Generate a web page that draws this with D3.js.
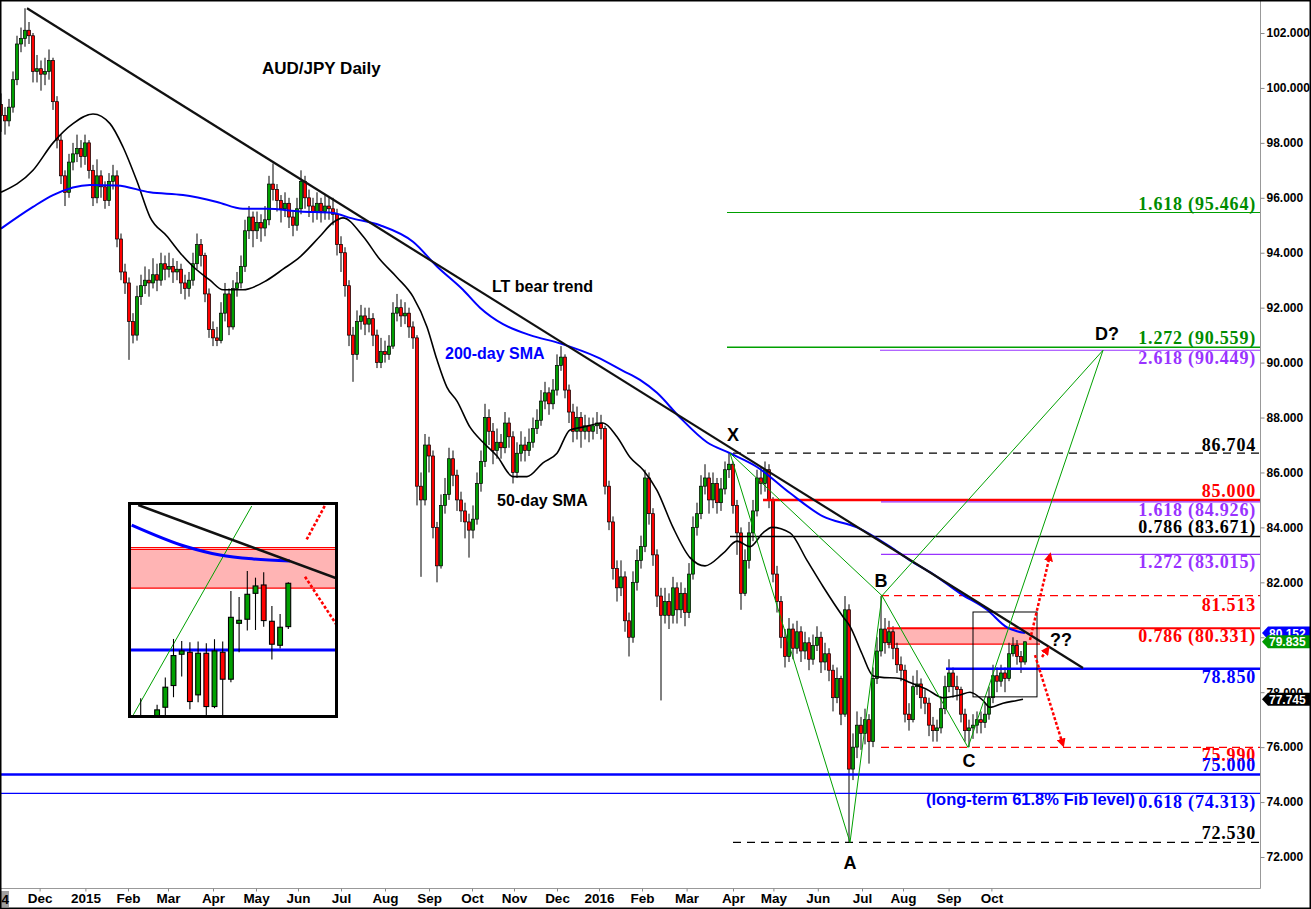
<!DOCTYPE html>
<html><head><meta charset="utf-8">
<script src="https://cdn.jsdelivr.net/npm/d3@7"></script>
<style>
html,body{margin:0;padding:0;background:#fff;}
svg{display:block;}
</style></head><body>
<svg id="c" width="1311" height="909"></svg>
<script>
// ---------------- DATA ----------------
// candles: one candle per two trading days, Nov 2014 .. late Oct 2016
const firstOpen = 99.4;
const closes = [99.0,98.8,99.3,100.3,101.6,101.8,102.1,101.9,100.6,100.7,
100.5,100.6,101.0,99.5,98.1,96.8,96.2,97.3,97.6,97.8,
97.5,98.0,97.0,96.0,96.8,96.4,95.9,96.6,96.8,94.5,
93.3,92.9,91.5,91.0,92.4,92.8,93.0,92.9,93.2,93.0,
93.6,93.4,93.5,93.3,93.4,92.9,92.7,93.0,93.6,94.3,
93.9,92.5,91.2,90.9,90.8,91.8,92.5,91.3,92.7,92.9,
93.5,94.8,95.3,94.8,95.1,94.9,95.2,96.5,96.3,95.9,
95.6,95.8,95.3,95.0,95.6,96.6,96.0,95.7,95.5,95.8,
95.5,95.7,95.6,95.4,94.3,94.0,92.8,91.0,90.3,91.5,
91.7,91.4,91.6,91.0,90.0,90.4,90.3,90.6,91.8,92.0,
91.7,91.8,91.3,90.9,85.5,85.0,87.0,86.6,84.0,82.6,
84.8,85.2,86.5,85.9,85.0,84.6,84.2,83.9,84.3,85.6,
86.4,88.0,87.5,86.8,87.1,86.9,87.8,87.3,86.0,86.7,
87.0,86.8,87.1,87.6,87.9,88.6,88.9,88.5,89.0,89.9,
90.2,89.0,88.2,87.5,88.0,87.5,87.7,87.5,87.7,87.8,
87.6,85.5,84.2,82.5,81.8,82.2,80.6,80.0,82.0,82.8,
83.3,85.8,84.5,83.0,81.5,80.8,81.3,80.8,81.8,81.0,
81.6,80.9,82.3,84.0,84.5,85.5,85.8,85.0,85.6,84.9,
85.4,86.1,86.3,84.8,83.8,81.6,82.8,83.8,84.6,85.8,
85.6,86.1,85.0,82.3,81.3,80.0,79.3,80.3,79.6,80.2,
79.5,79.8,79.2,79.7,80.0,79.1,79.4,78.8,77.8,78.5,
77.2,81.0,75.2,76.0,76.8,76.5,77.0,76.2,78.5,79.5,
80.3,79.8,80.2,79.6,79.0,78.8,77.2,77.0,78.2,78.3,
77.8,77.6,76.8,76.6,76.7,77.4,78.2,78.7,78.2,78.1,
77.2,76.6,76.7,76.8,77.0,76.9,77.2,77.8,78.6,78.4,
78.7,78.5,79.4,79.7,79.3,79.1,79.835];
const highs = [99.8,99.3,99.6,100.6,101.9,102.2,102.9,102.4,102.0,101.2,
101.0,101.1,101.4,101.1,99.7,98.3,97.0,97.6,98.0,98.3,
98.1,98.3,98.1,97.2,97.4,97.0,96.6,96.9,97.2,97.0,
94.7,93.6,93.1,91.8,92.8,93.2,93.5,93.4,93.8,93.6,
94.0,93.9,94.0,93.8,93.7,93.6,93.2,93.3,94.0,94.7,
94.5,94.0,92.7,91.5,91.3,92.2,92.9,92.7,93.0,93.3,
93.9,95.2,95.7,95.5,95.5,95.4,95.7,96.8,97.25,96.5,
96.1,96.2,96.0,95.5,96.0,97.0,96.8,96.3,96.0,96.2,
96.0,96.1,96.0,96.0,95.6,94.6,94.2,93.0,91.3,91.9,
92.1,92.0,92.0,91.8,91.2,90.9,90.8,91.0,92.2,92.5,
92.3,92.2,92.0,91.5,91.0,86.0,87.4,87.3,86.8,84.2,
85.2,85.8,86.9,86.8,86.1,85.3,84.9,84.5,84.8,86.0,
86.8,88.5,88.3,87.8,87.6,87.4,88.2,88.0,87.5,87.1,
87.5,87.3,87.6,88.0,88.3,89.0,89.3,89.1,89.4,90.3,
90.6,90.3,89.2,88.5,88.4,88.2,88.1,88.0,88.0,88.2,
88.1,87.7,85.7,84.4,82.8,82.8,82.4,80.9,82.4,83.2,
83.7,86.1,86.0,84.7,83.2,81.8,81.8,81.6,82.2,82.0,
82.0,81.8,82.7,84.4,84.9,85.9,86.3,86.0,86.0,85.8,
85.8,86.4,86.7,86.4,85.0,84.0,83.2,84.2,85.0,86.1,
86.2,86.4,86.3,85.1,82.6,81.5,80.3,80.7,80.5,80.6,
80.4,80.2,80.0,80.1,80.4,80.2,79.8,79.6,79.0,78.9,
78.6,81.5,81.2,76.5,77.3,77.1,77.4,77.2,78.9,80.0,
81.5,80.7,80.6,80.4,79.8,79.3,79.0,77.6,78.6,78.8,
78.5,78.1,77.8,77.1,77.0,77.8,78.6,79.2,78.9,78.6,
78.2,77.4,77.0,77.2,77.3,77.3,77.6,78.2,79.0,78.9,
79.0,78.9,79.8,80.0,79.9,79.5,79.85];
const lows = [98.4,98.3,98.6,99.1,100.1,101.3,101.5,101.6,100.2,100.2,
99.9,100.1,100.3,99.2,97.8,96.5,95.7,96.0,97.0,97.3,
97.1,97.2,96.7,95.7,95.8,96.0,95.6,95.7,96.3,94.2,
93.0,92.5,90.1,90.7,90.8,92.1,92.5,92.4,92.7,92.6,
92.8,93.0,93.1,92.9,93.0,92.5,92.3,92.4,92.8,93.4,
93.5,92.2,90.9,90.6,90.6,90.7,91.5,91.0,91.2,92.4,
92.7,93.3,94.5,94.2,94.5,94.4,94.6,95.0,95.9,95.5,
95.1,95.3,94.9,94.6,94.8,95.4,95.6,95.3,95.1,95.2,
95.1,95.2,95.2,95.0,93.9,93.3,92.4,90.6,89.3,90.1,
91.2,91.0,91.1,90.6,89.8,89.8,90.0,90.1,90.5,91.5,
91.3,91.4,90.9,90.5,84.8,82.2,84.8,86.0,83.6,82.0,
82.5,84.5,85.0,85.5,84.6,84.2,83.6,82.9,83.6,84.1,
85.3,86.2,87.0,86.3,86.5,86.5,86.7,86.9,85.6,85.8,
86.4,86.4,86.6,86.9,87.4,87.7,88.3,88.1,88.3,88.8,
89.7,88.7,87.8,87.1,87.2,86.9,87.2,87.1,87.2,87.4,
87.2,85.2,83.9,82.1,81.3,81.5,80.2,79.3,79.8,81.7,
82.5,83.1,84.1,82.6,81.1,77.7,80.5,80.3,80.5,80.5,
80.7,80.4,80.7,82.1,83.7,84.3,85.2,84.5,84.7,84.5,
84.6,85.2,85.8,84.5,83.0,81.0,81.5,82.5,83.5,84.4,
85.2,85.3,84.7,82.0,80.9,79.6,78.9,79.1,79.2,79.4,
79.1,79.2,78.8,79.0,79.5,78.7,78.8,78.4,77.3,77.6,
76.8,77.1,72.53,74.8,75.6,75.9,76.1,75.4,76.0,78.3,
79.3,79.4,79.6,79.2,78.7,78.4,76.9,76.6,76.9,77.9,
77.4,77.2,76.4,76.2,76.2,76.5,77.2,78.0,77.8,77.7,
76.9,76.2,76.0,76.3,76.5,76.5,76.7,77.0,77.6,78.0,
78.2,78.0,78.4,79.3,79.0,78.7,79.0];

// moving averages, [candle index, value]
const sma200 = [[0,94.88],[8,95.67],[13,96.1],[22.25,96.47],[29,96.45],[37.25,96.2],[45.5,96.1],[54,95.85],[60.5,95.6],[66.5,95.6],[74.75,95.5],[83,95.45],[87.25,95.27],[94.75,95.0],[103,94.4],[109,93.5],[115.5,92.65],[119.75,92.0],[125.5,91.4],[132.25,91.0],[139.75,90.7],[149,90.2],[155.5,89.7],[159.75,89.37],[164,88.9],[169.75,88.0],[176.5,87.1],[182.25,86.7],[189,86.2],[197.25,85.25],[205.5,84.4],[214,84.0],[222.25,83.3],[227.25,82.8],[233,82.3],[239.75,81.6],[246.5,81.0],[251.5,80.36],[254,80.22],[256,80.152]];
const sma50 = [[0,96.2],[8,97.0],[13,98.0],[18,98.7],[23,99.05],[27.25,98.7],[30.5,97.85],[34,96.6],[37.25,95.3],[41.5,94.6],[44.75,94.0],[48,93.5],[52.25,93.0],[55.5,92.65],[60.5,92.65],[66.5,93.0],[70.5,93.4],[74.75,93.85],[79.75,94.6],[83,95.1],[85.5,95.27],[90.5,94.6],[94.75,93.75],[99,93.1],[103,92.4],[106.5,91.3],[109,90.1],[111.5,89.1],[114,88.6],[117.25,87.65],[120.5,87.1],[124,86.6],[128,85.85],[131.5,85.85],[135.5,86.35],[139,86.7],[142.25,87.55],[145.5,87.65],[150.5,87.8],[154,87.3],[157.25,86.55],[160.5,86.1],[164,85.35],[168,84.0],[172.25,82.9],[176,82.6],[180.5,83.05],[184,83.5],[187.25,83.3],[190.5,83.8],[192.75,84.0],[197.25,83.8],[201.5,82.8],[205.5,81.85],[210.5,80.75],[212.25,80.4],[215.25,79.4],[218,78.6],[219.75,78.55],[224.75,78.5],[227.25,78.35],[231.5,78.1],[235.5,77.8],[239.75,77.9],[242.25,78.0],[245.5,77.7],[247.25,77.45],[250.5,77.6],[254,77.7],[255.5,77.745]];

// axes
const monthLabels = ["Dec","2015","Feb","Mar","Apr","May","Jun","Jul","Aug","Sep","Oct","Nov","Dec","2016","Feb","Mar","Apr","May","Jun","Jul","Aug","Sep","Oct"];
const monthIdx = [9.65,21.1,31.75,41.75,53,63.75,74.25,85,96,107,117.75,128.25,139,149.5,160.25,171.4,183,193.1,204.2,215.25,225.5,236.9,247.6];
const yTicks = [72,74,76,78,80,82,84,86,88,90,92,94,96,98,100,102];

// horizontal levels
const levelValues = [95.464,90.559,90.449,86.704,85.000,84.926,83.671,83.015,81.513,80.331,78.850,75.990,75.000,74.313,72.530];
const levelLabels = ["1.618 (95.464)","1.272 (90.559)","2.618 (90.449)","86.704","85.000","1.618 (84.926)","0.786 (83.671)","1.272 (83.015)","81.513","0.786 (80.331)","78.850","75.990","75.000","0.618 (74.313)","72.530"];
const levelStart = [181.5,181.5,219.75,183,190.5,220,182.25,220,220,221.5,236.25,220,-2,-2,183];

// harmonic pattern points X A B C D  [candle index, price]
const patternNames = ["X","A","B","C","D"];
const patternPts = [[182.25,86.704],[212.25,72.53],[220.25,81.513],[241.75,75.99],[275.5,90.449]];
const patternLegs = [[0,1],[1,2],[0,2],[2,3],[2,4],[3,4]];

// long-term bear trend line
const trendPts = [[6.5,102.9],[270.5,78.88]];

// resistance zone and zoom box
const zone = {i0:221.5, i1:259.75, top:80.331, bottom:79.75};
const zoomBox = {i0:243, i1:259, top:80.92, bottom:77.83};

// scenario arrows [from, to]
const arrows = [[[257.25,79.9],[262.25,83.0]],[[260.25,79.28],[261.75,79.6]],[[258.5,79.35],[265.5,76.08]]];

// price tags on the right axis
const tagValues = [80.152,79.835,77.745];

// inset: last daily candles (open, high, low, close)
const inOpen  = [77.70,77.75,77.80,78.027,78.339,78.789,78.818,78.205,78.803,78.037,78.818,78.43,79.234,79.292,79.665,79.785,79.263,78.918,79.186];
const inHigh  = [78.157,77.85,78.061,78.454,79.009,78.98,78.961,78.971,78.947,79.005,78.971,79.70,79.613,79.986,79.89,79.967,79.483,79.368,79.823];
const inLow   = [77.5,77.5,77.7,77.917,78.171,78.468,77.999,78.1,77.893,78.013,77.893,78.387,78.818,79.129,79.138,79.186,78.712,78.87,79.153];
const inClose = [77.80,77.6,77.989,78.315,78.77,78.837,78.109,78.803,78.037,78.837,78.43,79.32,79.277,79.651,79.771,79.273,78.933,79.177,79.809];
const inSma = [[-1.1,80.647],[5.6,80.335],[9.67,80.216],[13.73,80.159],[18.2,80.13]];
const inTrend = [[-0.3,80.934],[23.9,79.881]];
const inGreen = [[-0.9,77.917],[13.54,80.92]];
const inArrows = [[[20.24,80.44],[22.48,80.93]],[[20.04,79.904],[23.9,79.21]]];

// text annotations [candle index, price, text]
const notes = [[65.25,100.51,"AUD/JPY Daily"],[122.75,92.57,"LT bear trend"],[124,84.78,"50-day SMA"]];
const smaNote = [111,90.13,"200-day SMA"];
const fibNote = [231.25,73.9,"(long-term 61.8% Fib level)"];
const patternLabelPos = [[183,87.15,"X"],[212.25,71.57,"A"],[220,81.83,"B"],[242,75.28,"C"],[276.5,90.82,"D?"],[265,79.68,"??"]];

// ---------------- DRAWING ----------------
const W = 1311, H = 909, plotR = 1260, plotB = 888;
const svg = d3.select("#c");
const x = d3.scaleLinear().domain([0,300]).range([1,1201]);
const y = d3.scaleLinear().domain([72,102]).range([857,33]);
const SANS = "'Liberation Sans', Arial, sans-serif";
const SERIF = "'Liberation Serif', 'Times New Roman', serif";
const GREEN = "#00a000", RED = "#ff0000", BLUE = "#0000ff", PURPLE = "#9933ff";

svg.append("rect").attr("width",W).attr("height",H).attr("fill","#fff");
const defs = svg.append("defs");
defs.append("clipPath").attr("id","plotClip").append("rect").attr("x",0).attr("y",0).attr("width",plotR).attr("height",plotB);
defs.append("marker").attr("id","arr").attr("viewBox","0 0 10 10").attr("refX",7).attr("refY",5)
  .attr("markerWidth",3.6).attr("markerHeight",3.6).attr("orient","auto")
  .append("path").attr("d","M0,0L10,5L0,10z").attr("fill",RED);

const plot = svg.append("g").attr("clip-path","url(#plotClip)");

// resistance zone
plot.append("rect").attr("x",x(zone.i0)).attr("width",x(zone.i1)-x(zone.i0))
  .attr("y",y(zone.top)).attr("height",y(zone.bottom)-y(zone.top)).attr("fill","#ffb4b4");
plot.append("line").attr("x1",x(zone.i0)).attr("x2",x(zone.i1)).attr("y1",y(zone.bottom)).attr("y2",y(zone.bottom))
  .attr("stroke",RED).attr("stroke-width",1.3);

// candles
const candles = closes.map((c,i)=>({i, o: i===0?firstOpen:closes[i-1], c, h: highs[i], l: lows[i]}));
const cg = plot.append("g");
cg.selectAll("line").data(candles).join("line")
  .attr("x1",d=>x(d.i)).attr("x2",d=>x(d.i))
  .attr("y1",d=>y(d.h)).attr("y2",d=>y(d.l))
  .attr("stroke","#000").attr("stroke-width",1);
cg.selectAll("rect").data(candles).join("rect")
  .attr("x",d=>x(d.i)-1.6).attr("width",3.2)
  .attr("y",d=>y(Math.max(d.o,d.c)))
  .attr("height",d=>Math.max(1,Math.abs(y(d.o)-y(d.c))))
  .attr("fill",d=>d.c>=d.o?GREEN:RED)
  .attr("stroke","#000").attr("stroke-width",0.7);

// levels
const levelStyle = [
 [GREEN,1.2,null,"#008c00",-3],[GREEN,1.4,null,"#008c00",-3],[PURPLE,1.2,null,PURPLE,14],
 ["#000",1.2,"8,6","#000",-2],[RED,2.5,null,RED,-3],[PURPLE,1.2,null,PURPLE,14],
 ["#000",1.6,null,"#000",-3],[PURPLE,1.2,null,PURPLE,14],[RED,1.2,"8,5",RED,15],
 [RED,2,null,RED,14],[BLUE,2.5,null,BLUE,14],[RED,1.2,"8,5",RED,14],
 [BLUE,2.5,null,BLUE,-4],[BLUE,1.2,null,BLUE,15],["#000",1.2,"8,6","#000",-3]
];
const lg = plot.append("g");
levelValues.forEach((v,i)=>{
  const s = levelStyle[i];
  lg.append("line").attr("x1",x(levelStart[i])).attr("x2",plotR)
    .attr("y1",y(v)).attr("y2",y(v)).attr("stroke",s[0]).attr("stroke-width",s[1])
    .attr("stroke-dasharray",s[2]);
});

// moving averages
const line = d3.line().x(d=>x(d[0])).y(d=>y(d[1])).curve(d3.curveMonotoneX);
plot.append("path").attr("d",line(sma50)).attr("fill","none").attr("stroke","#000").attr("stroke-width",1.6);
plot.append("path").attr("d",line(sma200)).attr("fill","none").attr("stroke",BLUE).attr("stroke-width",2);

// trend line
plot.append("line").attr("x1",x(trendPts[0][0])).attr("y1",y(trendPts[0][1]))
  .attr("x2",x(trendPts[1][0])).attr("y2",y(trendPts[1][1]))
  .attr("stroke","#111").attr("stroke-width",2.2);

// pattern legs
patternLegs.forEach(([a,b])=>{
  plot.append("line").attr("x1",x(patternPts[a][0])).attr("y1",y(patternPts[a][1]))
    .attr("x2",x(patternPts[b][0])).attr("y2",y(patternPts[b][1]))
    .attr("stroke",GREEN).attr("stroke-width",1);
});

// zoom box
plot.append("rect").attr("x",x(zoomBox.i0)).attr("y",y(zoomBox.top))
  .attr("width",x(zoomBox.i1)-x(zoomBox.i0)).attr("height",y(zoomBox.bottom)-y(zoomBox.top))
  .attr("fill","none").attr("stroke","#000").attr("stroke-width",1);

// arrows
arrows.forEach(([a,b])=>{
  plot.append("line").attr("x1",x(a[0])).attr("y1",y(a[1])).attr("x2",x(b[0])).attr("y2",y(b[1]))
    .attr("stroke",RED).attr("stroke-width",2.5).attr("stroke-dasharray","3,2").attr("marker-end","url(#arr)");
});

// level labels
levelValues.forEach((v,i)=>{
  const s = levelStyle[i];
  svg.append("text").attr("x",1256).attr("y",y(v)+s[4]).attr("text-anchor","end")
    .attr("font-family",SERIF).attr("font-weight","bold").attr("font-size",18)
    .attr("letter-spacing",0.8).attr("fill",s[3]).text(levelLabels[i]);
});

// annotations
notes.forEach(n=>{
  svg.append("text").attr("x",x(n[0])).attr("y",y(n[1])).attr("font-family",SANS).attr("font-weight","bold")
    .attr("font-size",n[2]==="AUD/JPY Daily"?17:16).attr("fill","#000").text(n[2]);
});
svg.append("text").attr("x",x(smaNote[0])).attr("y",y(smaNote[1])).attr("font-family",SANS).attr("font-weight","bold")
  .attr("font-size",16).attr("fill",BLUE).text(smaNote[2]);
svg.append("text").attr("x",x(fibNote[0])).attr("y",y(fibNote[1])).attr("font-family",SANS).attr("font-weight","bold")
  .attr("font-size",16.5).attr("fill",BLUE).text(fibNote[2]);
patternLabelPos.forEach(p=>{
  svg.append("text").attr("x",x(p[0])).attr("y",y(p[1])).attr("text-anchor","middle").attr("font-family",SANS)
    .attr("font-weight","bold").attr("font-size",18).attr("fill","#000").text(p[2]);
});

// ---------------- INSET ----------------
const ix = d3.scaleLinear().domain([0,18]).range([140.7,288.3]);
const iy = d3.scaleLinear().domain([80.331,78.85]).range([547,650]);
defs.append("clipPath").attr("id","inClip").append("rect").attr("x",131).attr("y",505).attr("width",205).attr("height",211);
svg.append("rect").attr("x",129.5).attr("y",503.5).attr("width",207).attr("height",213).attr("fill","#fff");
const ig = svg.append("g").attr("clip-path","url(#inClip)");
ig.append("rect").attr("x",125).attr("width",220).attr("y",iy(80.331)).attr("height",iy(79.74)-iy(80.331)).attr("fill","#ffb4b4");
ig.append("line").attr("x1",125).attr("x2",345).attr("y1",iy(80.331)+0.5).attr("y2",iy(80.331)+0.5).attr("stroke",RED).attr("stroke-width",1.2);
ig.append("line").attr("x1",125).attr("x2",345).attr("y1",iy(80.331)+2.5).attr("y2",iy(80.331)+2.5).attr("stroke",RED).attr("stroke-width",1.2);
ig.append("line").attr("x1",125).attr("x2",345).attr("y1",iy(79.74)).attr("y2",iy(79.74)).attr("stroke",RED).attr("stroke-width",1.3);
ig.append("line").attr("x1",125).attr("x2",345).attr("y1",iy(78.85)).attr("y2",iy(78.85)).attr("stroke",BLUE).attr("stroke-width",3);
const iline = d3.line().x(d=>ix(d[0])).y(d=>iy(d[1]));
ig.append("path").attr("d",iline(inGreen)).attr("stroke",GREEN).attr("stroke-width",1).attr("fill","none");
ig.append("path").attr("d",d3.line().x(d=>ix(d[0])).y(d=>iy(d[1])).curve(d3.curveMonotoneX)(inSma)).attr("stroke",BLUE).attr("stroke-width",3).attr("fill","none");
ig.append("path").attr("d",iline(inTrend)).attr("stroke","#111").attr("stroke-width",2.6).attr("fill","none");
const icandles = inClose.map((c,i)=>({i,o:inOpen[i],h:inHigh[i],l:inLow[i],c}));
ig.selectAll("line.w").data(icandles).join("line").attr("class","w")
  .attr("x1",d=>ix(d.i)).attr("x2",d=>ix(d.i)).attr("y1",d=>iy(d.h)).attr("y2",d=>iy(d.l))
  .attr("stroke","#000").attr("stroke-width",1.1);
ig.selectAll("rect.b").data(icandles).join("rect").attr("class","b")
  .attr("x",d=>ix(d.i)-2.4).attr("width",4.8)
  .attr("y",d=>iy(Math.max(d.o,d.c))).attr("height",d=>Math.max(1.5,Math.abs(iy(d.o)-iy(d.c))))
  .attr("fill",d=>d.c>=d.o?GREEN:RED).attr("stroke","#000").attr("stroke-width",1.1);
inArrows.forEach(([a,b])=>{
  ig.append("line").attr("x1",ix(a[0])).attr("y1",iy(a[1])).attr("x2",ix(b[0])).attr("y2",iy(b[1]))
    .attr("stroke",RED).attr("stroke-width",2.6).attr("stroke-dasharray","3,2");
});
svg.append("rect").attr("x",129.5).attr("y",503.5).attr("width",207).attr("height",213)
  .attr("fill","none").attr("stroke","#000").attr("stroke-width",3);

// ---------------- AXES & FRAME ----------------
svg.append("line").attr("x1",plotR+0.5).attr("x2",plotR+0.5).attr("y1",0).attr("y2",plotB+0.5).attr("stroke","#999").attr("stroke-width",1);
svg.append("line").attr("x1",0).attr("x2",plotR+0.5).attr("y1",plotB+0.5).attr("y2",plotB+0.5).attr("stroke","#999").attr("stroke-width",1);

const yAxis = d3.axisRight(y).tickValues(yTicks).tickFormat(d3.format(".3f")).tickSize(4).tickPadding(2);
const ya = svg.append("g").attr("transform",`translate(${plotR+0.5},0)`).call(yAxis);
ya.select(".domain").remove();
ya.selectAll(".tick line").attr("stroke","#888");
ya.selectAll(".tick text").attr("font-family",SANS).attr("font-weight","bold").attr("font-size",12).attr("fill","#000");

const xAxis = d3.axisBottom(x).tickValues(monthIdx).tickFormat((d,i)=>monthLabels[i]).tickSize(3).tickPadding(4);
const xa = svg.append("g").attr("transform",`translate(0,${plotB+0.5})`).call(xAxis);
xa.select(".domain").remove();
xa.selectAll(".tick line").attr("stroke","#888");
xa.selectAll(".tick text").attr("font-family","'Liberation Sans Narrow','Arial Narrow',"+SANS).attr("font-stretch","condensed")
  .attr("font-weight","bold").attr("font-size",13.5).attr("fill","#000").attr("dy","0.55em");

// partial first label
svg.append("rect").attr("x",0).attr("y",891).attr("width",9).attr("height",16).attr("fill","#a0a0a0");
svg.append("text").attr("x",1.5).attr("y",904).attr("font-family","'Liberation Sans Narrow',"+SANS).attr("font-weight","bold").attr("font-size",13.5).text("4");

// price tags
const tagColors = ["#0000ff","#009900","#000000"];
tagValues.forEach((v,i)=>{
  const cy = y(v);
  svg.append("path").attr("d",`M${plotR+2},${cy} L${plotR+8},${cy-6.5} L${W},${cy-6.5} L${W},${cy+6.5} L${plotR+8},${cy+6.5} Z`)
    .attr("fill",tagColors[i]);
  svg.append("text").attr("x",plotR+9).attr("y",cy+4.5).attr("font-family",SANS).attr("font-weight","bold")
    .attr("font-size",12).attr("fill","#fff").text(d3.format(".3f")(v));
});

// outer frame
svg.append("rect").attr("x",0.75).attr("y",0.75).attr("width",W-1.5).attr("height",H-1.5)
  .attr("fill","none").attr("stroke","#000").attr("stroke-width",1.5);
</script>
</body></html>
